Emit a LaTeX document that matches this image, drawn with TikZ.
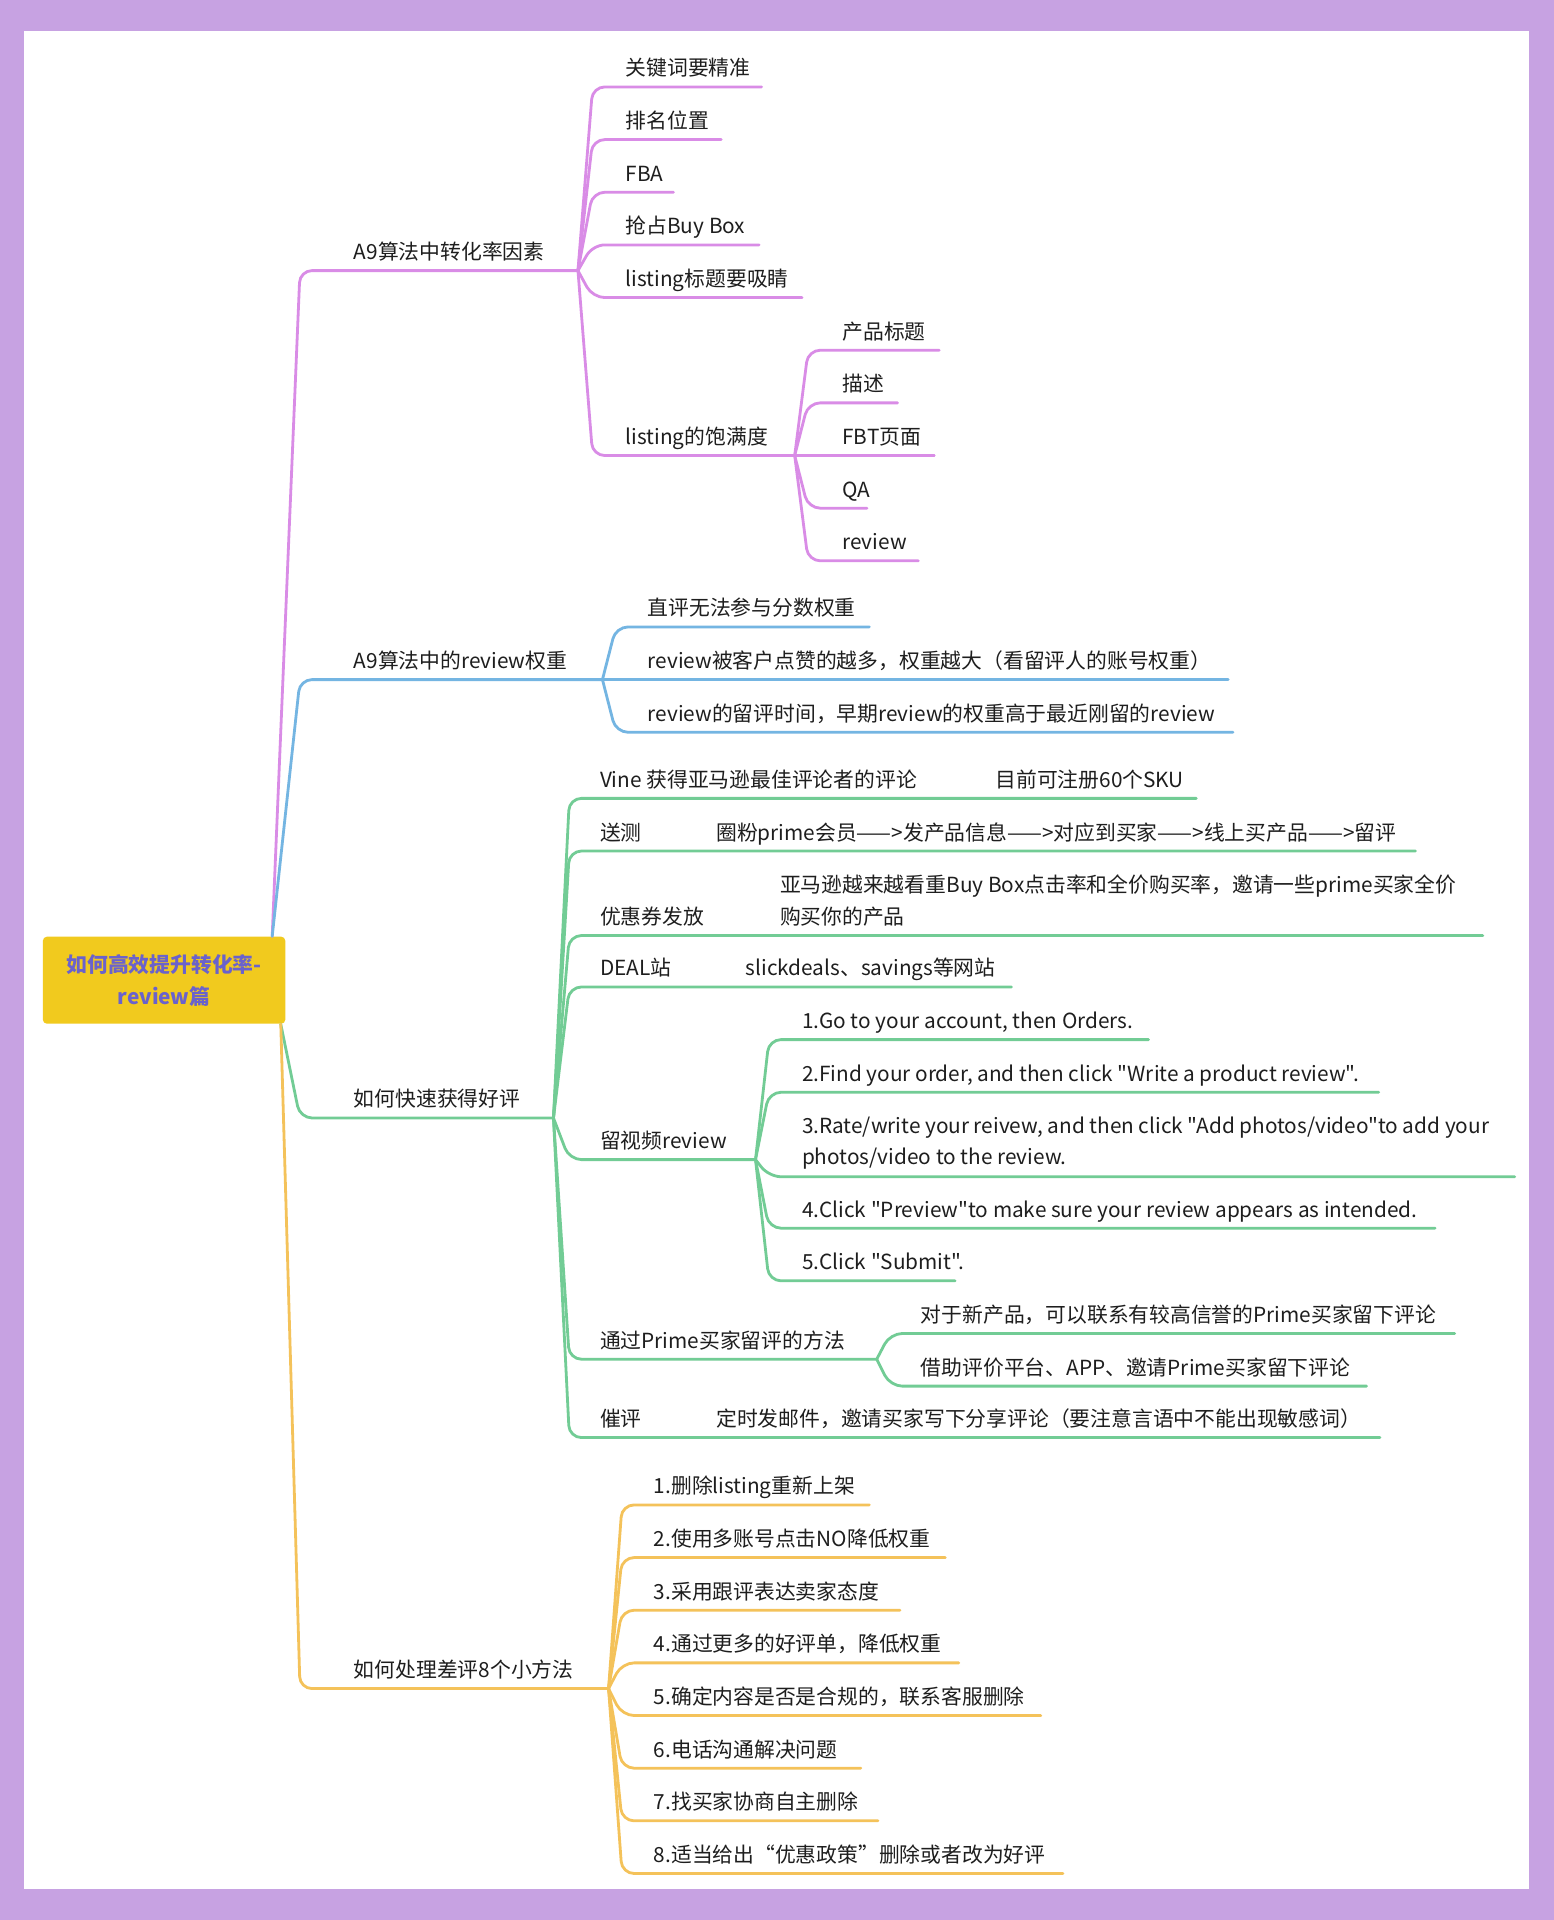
\documentclass[tikz,border=0pt]{standalone}
\usepackage{fontspec}
\setmainfont{Noto Sans CJK SC}[Ligatures=TeXOff]
\usetikzlibrary{calc}
\definecolor{bgpurple}{HTML}{C7A2E2}
\definecolor{cpurple}{HTML}{D98CE6}
\definecolor{cblue}{HTML}{74B5E2}
\definecolor{cgreen}{HTML}{72CC95}
\definecolor{corange}{HTML}{F4C25A}
\definecolor{cyellow}{HTML}{F1CA1E}
\definecolor{croottext}{HTML}{6A62CC}
\definecolor{ctext}{HTML}{1E1E1E}
\tikzset{
  txt/.style={inner sep=0pt, outer sep=0pt, text=ctext, font=\fontsize{10.4pt}{13pt}\selectfont, anchor=base west},
  branch/.style={line width=1.4pt, rounded corners=6pt, line cap=round},
  rootbox/.style={fill=cyellow, rounded corners=2pt, minimum width=121.2pt, minimum height=43.5pt, align=center, inner sep=0pt, text=croottext, font=\fontsize{10.4pt}{15.9pt}\selectfont\bfseries},
}
\newcommand\mmkid[8]{%
  \coordinate (#3-s) at (#5,#4);
  \coordinate (#3-e) at (#6,#4);
  \node[txt] (#3) at (#7,#4-9) {#8};
  \draw[branch,draw=#1] (#2) -- (#3-s) -- (#3-e);
}
\begin{document}
\begin{tikzpicture}[x=0.6123pt,y=-0.6123pt]
\useasboundingbox (0,0) rectangle (1269,1568);
\fill[bgpurple] (0,0) rectangle (1269,1568);
\fill[white] (20,25) rectangle (1249,1543);

\node[rootbox] (root) at (134,800.5) {如何高效提升转化率-\\review篇};
\coordinate (rtop) at ($(root.north east)+(-11,0)$);
\coordinate (rbot) at ($(root.south east)+(-4,0)$);

% level 1
\mmkid{cpurple}{rtop}{a9}{221}{245}{472}{289}{A9算法中转化率因素}
\mmkid{cblue}{rtop}{rw}{555}{245}{492}{289}{A9算法中的review权重}
\mmkid{cgreen}{rbot}{hp}{913}{245}{452}{289}{如何快速获得好评}
\mmkid{corange}{rbot}{cp}{1379}{245}{497}{289}{如何处理差评8个小方法}

% A9 factors
\mmkid{cpurple}{a9-e}{k1}{71}{484}{622}{511}{关键词要精准}
\mmkid{cpurple}{a9-e}{k2}{114}{484}{589}{511}{排名位置}
\mmkid{cpurple}{a9-e}{k3}{157}{484}{550}{511}{FBA}
\mmkid{cpurple}{a9-e}{k4}{200}{484}{620}{511}{抢占Buy Box}
\mmkid{cpurple}{a9-e}{k5}{243}{484}{655}{511}{listing标题要吸睛}
\mmkid{cpurple}{a9-e}{k6}{372}{484}{649}{511}{listing的饱满度}

% listing
\mmkid{cpurple}{k6-e}{l1}{286}{660}{767}{688}{产品标题}
\mmkid{cpurple}{k6-e}{l2}{329}{660}{733}{688}{描述}
\mmkid{cpurple}{k6-e}{l3}{372}{660}{763}{688}{FBT页面}
\mmkid{cpurple}{k6-e}{l4}{415}{660}{708}{688}{QA}
\mmkid{cpurple}{k6-e}{l5}{458}{660}{750}{688}{review}

% review weight
\mmkid{cblue}{rw-e}{b1}{512}{503}{710}{529}{直评无法参与分数权重}
\mmkid{cblue}{rw-e}{b2}{555}{503}{1003}{529}{review被客户点赞的越多，权重越大（看留评人的账号权重）}
\mmkid{cblue}{rw-e}{b3}{598}{503}{1007}{529}{review的留评时间，早期review的权重高于最近刚留的review}

% good reviews
\mmkid{cgreen}{hp-e}{g1}{652}{465}{977}{490}{Vine 获得亚马逊最佳评论者的评论}
\node[txt] (g1b) at (813,643) {目前可注册60个SKU};
\mmkid{cgreen}{hp-e}{g2}{695}{465}{1156}{490}{送测}
\node[txt] (g2b) at (585,686) {圈粉prime会员——>发产品信息——>对应到买家——>线上买产品——>留评};
\mmkid{cgreen}{hp-e}{g3}{764}{465}{1211}{490}{优惠券发放}
\node[txt] (g3b) at (637,729) {亚马逊越来越看重Buy Box点击率和全价购买率，邀请一些prime买家全价};
\node[txt] (g3c) at (637,755) {购买你的产品};
\mmkid{cgreen}{hp-e}{g4}{806}{465}{826}{490}{DEAL站}
\node[txt] (g4b) at (609,797) {slickdeals、savings等网站};
\mmkid{cgreen}{hp-e}{g5}{947}{465}{617}{490}{留视频review}
\mmkid{cgreen}{hp-e}{g6}{1110}{465}{716}{490}{通过Prime买家留评的方法}
\mmkid{cgreen}{hp-e}{g7}{1174}{465}{1127}{490}{催评}
\node[txt] (g7b) at (585,1165) {定时发邮件，邀请买家写下分享评论（要注意言语中不能出现敏感词）};

% video review steps
\mmkid{cgreen}{g5-e}{v1}{849}{628}{938}{655}{1.Go to your account, then Orders.}
\mmkid{cgreen}{g5-e}{v2}{892}{628}{1126}{655}{2.Find your order, and then click "Write a product review".}
\coordinate (v3-s) at (628,961);
\coordinate (v3-e) at (1237,961);
\node[txt] (v3) at (655,926) {3.Rate/write your reivew, and then click "Add photos/video"to add your};
\node[txt] (v3b) at (655,951) {photos/video to the review.};
\draw[branch,draw=cgreen] (g5-e) -- (v3-s) -- (v3-e);
\mmkid{cgreen}{g5-e}{v4}{1003}{628}{1172}{655}{4.Click "Preview"to make sure your review appears as intended.}
\mmkid{cgreen}{g5-e}{v5}{1046}{628}{780}{655}{5.Click "Submit".}

% prime
\mmkid{cgreen}{g6-e}{p1}{1089}{727}{1188}{752}{对于新产品，可以联系有较高信誉的Prime买家留下评论}
\mmkid{cgreen}{g6-e}{p2}{1132}{727}{1116}{752}{借助评价平台、APP、邀请Prime买家留下评论}

% bad reviews
\mmkid{corange}{cp-e}{o1}{1229}{508}{710}{534}{1.删除listing重新上架}
\mmkid{corange}{cp-e}{o2}{1272}{508}{772}{534}{2.使用多账号点击NO降低权重}
\mmkid{corange}{cp-e}{o3}{1315}{508}{735}{534}{3.采用跟评表达卖家态度}
\mmkid{corange}{cp-e}{o4}{1358}{508}{783}{534}{4.通过更多的好评单，降低权重}
\mmkid{corange}{cp-e}{o5}{1401}{508}{850}{534}{5.确定内容是否是合规的，联系客服删除}
\mmkid{corange}{cp-e}{o6}{1444}{508}{703}{534}{6.电话沟通解决问题}
\mmkid{corange}{cp-e}{o7}{1487}{508}{717}{534}{7.找买家协商自主删除}
\mmkid{corange}{cp-e}{o8}{1530}{508}{868}{534}{8.适当给出“优惠政策”删除或者改为好评}
\end{tikzpicture}
\end{document}
